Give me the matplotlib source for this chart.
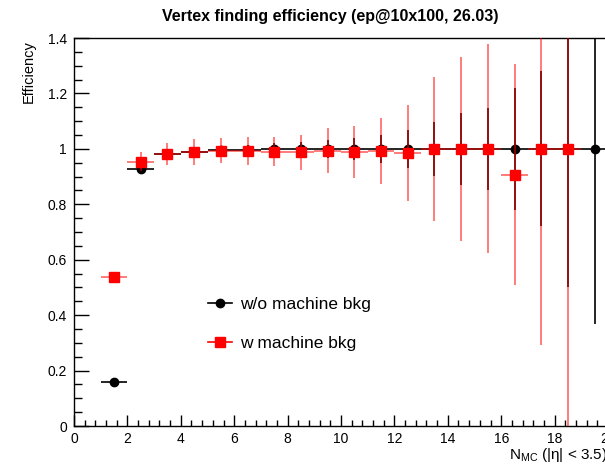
import numpy as np
import matplotlib
matplotlib.use('Agg')
from matplotlib import pyplot as plt
from matplotlib.lines import Line2D
from matplotlib.ticker import MultipleLocator

plt.rcParams['font.family'] = ['Liberation Sans', 'DejaVu Sans']
plt.rcParams['mathtext.fontset'] = 'custom'
plt.rcParams['mathtext.rm'] = 'Liberation Sans'
plt.rcParams['mathtext.it'] = 'Liberation Sans:italic'

# bin centres (N_MC)
n_mc = np.arange(1.5, 20.5, 1.0)

# w/o machine bkg
eff_nobkg = [0.159, 0.928, 0.983, 0.990, 0.995, 0.996, 1.0, 1.0, 1.0, 1.0,
             1.0, 1.0, 1.0, 1.0, 1.0, 1.0, 1.0, 1.0, 1.0]
err_nobkg = [0.004, 0.010, 0.012, 0.013, 0.015, 0.017, 0.020, 0.025, 0.032, 0.040,
             0.050, 0.068, 0.098, 0.130, 0.148, 0.220, 0.280, 0.500, 0.632]

# w machine bkg (no entry in last bin)
n_mc_bkg = n_mc[:-1]
eff_bkg = [0.539, 0.954, 0.982, 0.987, 0.994, 0.993, 0.990, 0.988, 0.994, 0.990,
           0.993, 0.984, 1.0, 1.0, 1.0, 0.907, 1.0, 1.0]
err_bkg = [0.017, 0.033, 0.040, 0.047, 0.045, 0.050, 0.053, 0.063, 0.080, 0.094,
           0.120, 0.173, 0.260, 0.333, 0.377, 0.400, 0.708, 1.100]

fig = plt.figure(figsize=(6.05, 4.70), dpi=100)
# axes run a bit past the right edge of the picture (cropped like the original)
ax = fig.add_axes([74/605, 44/470, 534/605, 388/470])

ax.errorbar(n_mc, eff_nobkg, xerr=0.5, yerr=err_nobkg, fmt='o', color='black',
            ms=6, elinewidth=1.2, capsize=0, zorder=2)
ax.errorbar(n_mc_bkg, eff_bkg, xerr=0.5, yerr=err_bkg, fmt='none', ecolor='red',
            elinewidth=1.2, capsize=0, alpha=0.6, zorder=3)
ax.plot(n_mc_bkg, eff_bkg, 's', color='red', ms=7, zorder=4)

ax.set_xlim(0, 20)
ax.set_ylim(0, 1.4)
ax.xaxis.set_major_locator(MultipleLocator(2))
ax.xaxis.set_minor_locator(MultipleLocator(0.4))
ax.yaxis.set_minor_locator(MultipleLocator(0.05))
ax.set_yticks(np.arange(0, 1.41, 0.2))
ax.set_yticklabels(['0', '0.2', '0.4', '0.6', '0.8', '1', '1.2', '1.4'])
ax.tick_params(axis='both', which='both', direction='in', labelsize=10, width=1)
ax.tick_params(axis='y', which='major', length=11, pad=5)
ax.tick_params(axis='y', which='minor', length=5.5)
ax.tick_params(axis='x', which='major', length=8, pad=4)
ax.tick_params(axis='x', which='minor', length=4)
for s in ax.spines.values():
    s.set_linewidth(1)

handles = [Line2D([], [], color='black', marker='o', ms=6, lw=1.2),
           Line2D([], [], color='red', marker='s', ms=6.5, lw=1.2)]
ax.legend(handles, ['w/o machine bkg', 'w machine bkg'], frameon=False,
          loc='upper left', bbox_to_anchor=(0.222, 0.372), fontsize=12.5,
          handlelength=1.4, handletextpad=0.45, labelspacing=1.35)

fig.text(330/605, 1 - 17/470, 'Vertex finding efficiency (ep@10x100, 26.03)',
         ha='center', va='center', fontsize=11.5, fontweight='bold')
fig.text(29/605, 1 - 40/470, 'Efficiency', rotation=90, ha='center', va='top',
         fontsize=10.5)
fig.text(608/605, 1 - 455/470, r'N$_{\rm MC}$ (|η| < 3.5)', ha='right',
         va='center', fontsize=11)

fig.savefig('out.png', dpi=100)
